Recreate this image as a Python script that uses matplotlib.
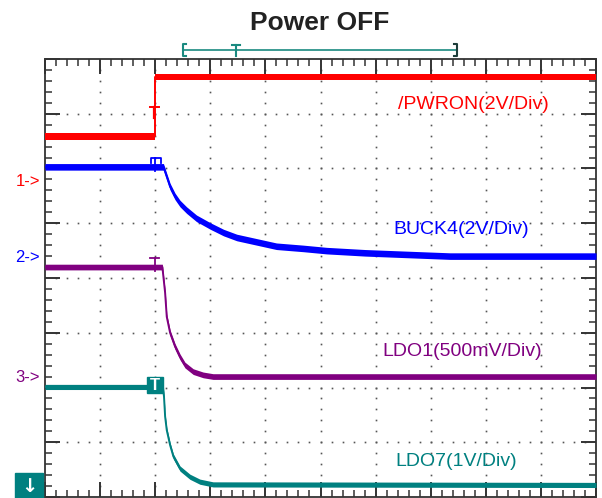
import numpy as np
import matplotlib
matplotlib.use("Agg")
from matplotlib import pyplot as plt
from matplotlib.patches import Rectangle

plt.rcParams["font.family"] = ["Liberation Sans", "DejaVu Sans"]

# scope traces, in screen divisions (10 x 8 grid)
t_pwron = [0, 2.0, 2.0, 10]
v_pwron = [6.59, 6.59, 7.67, 7.67]

t_buck4 = [0, 2.0, 2.15, 2.21, 2.27, 2.36, 2.45, 2.57, 2.75, 3.0, 3.24,
           3.48, 3.84, 4.2, 4.69, 5.11, 5.81, 7.35, 10]
v_buck4 = [6.03, 6.03, 6.03, 5.85, 5.67, 5.49, 5.36, 5.24, 5.09, 4.95, 4.83,
           4.74, 4.66, 4.58, 4.54, 4.50, 4.46, 4.40, 4.40]

t_ldo1 = [0, 2.0, 2.13, 2.18, 2.21, 2.27, 2.36, 2.45, 2.54, 2.69, 2.87,
          3.05, 10]
v_ldo1 = [4.20, 4.20, 4.20, 3.73, 3.29, 3.00, 2.75, 2.56, 2.41, 2.29, 2.23,
          2.20, 2.20]

t_ldo7 = [0, 2.0, 2.14, 2.16, 2.18, 2.21, 2.27, 2.33, 2.45, 2.63, 2.81,
          3.05, 10]
v_ldo7 = [2.01, 2.01, 2.01, 1.83, 1.47, 1.22, 0.95, 0.74, 0.52, 0.37, 0.28,
          0.23, 0.22]

names = ["/PWRON(2V/Div)", "BUCK4(2V/Div)", "LDO1(500mV/Div)", "LDO7(1V/Div)"]
colors = ["#ff0000", "#0000ff", "#800080", "#008080"]
ground = [5.77, 4.38, 2.19]   # channel 1-3 reference levels

fig = plt.figure(figsize=(6.02, 4.98), dpi=100)
ax = fig.add_axes([45 / 602, 1 / 498, 551 / 602, 438 / 498])
ax.set_xlim(0, 10)
ax.set_ylim(0, 8)

# dotted graticule
gx, gy = [], []
for k in range(1, 10):
    ys = np.arange(0.2, 8, 0.2)
    gx += [k] * len(ys)
    gy += list(ys)
for k in range(1, 8):
    xs = np.arange(0.2, 10, 0.2)
    gx += list(xs)
    gy += [k] * len(xs)
ax.plot(gx, gy, "s", ms=1.2, mew=0, color="#555555", zorder=1)

# traces: a vertical noise band around each waveform
traces = [(t_pwron, v_pwron, 0.062), (t_buck4, v_buck4, 0.06),
          (t_ldo1, v_ldo1, 0.052), (t_ldo7, v_ldo7, 0.047)]
for (t, v, h), c in zip(traces, colors):
    t = np.array(t)
    v = np.array(v)
    ax.fill_between(t, v - h, v + h, color=c, lw=0, zorder=3)
    ax.plot(t, v, color=c, lw=1.4, zorder=3)

# trace labels
ax.text(6.41, 7.16, names[0], color=colors[0], fontsize=14, va="center")
ax.text(6.32, 4.88, names[1], color=colors[1], fontsize=14, va="center")
ax.text(6.12, 2.65, names[2], color=colors[2], fontsize=14, va="center")
ax.text(6.35, 0.645, names[3], color=colors[3], fontsize=14, va="center")

# trigger markers
ax.plot([1.906, 2.069], [7.123, 7.123], color=colors[0], lw=1.4, zorder=4)
ax.plot([1.978, 1.978], [7.123, 6.92], color=colors[0], lw=1.6, zorder=4)
ax.plot([1.92, 1.92, 2.10, 2.10], [6.10, 6.19, 6.19, 6.10],
        color=colors[1], lw=1.3, zorder=4)
ax.plot([1.99, 1.99], [6.19, 5.96], color=colors[1], lw=1.3, zorder=4)
ax.plot([1.906, 2.069], [4.36, 4.36], color=colors[2], lw=1.3, zorder=4)
ax.plot([1.99, 1.99], [4.36, 4.12], color=colors[2], lw=1.3, zorder=4)
ax.add_patch(Rectangle((1.851, 1.90), 0.291, 0.292, color=colors[3], zorder=5))
ax.text(1.996, 2.04, "T", color="white", fontsize=12, fontweight="bold",
        ha="center", va="center", zorder=6)

# time window bracket above the screen
bc = "#1a8a80"
ax.plot([2.505, 7.477], [8.164, 8.164], color=bc, lw=1.2, clip_on=False)
ax.plot([2.56, 2.505, 2.505, 2.56], [8.27, 8.27, 8.06, 8.06], color=bc,
        lw=1.5, clip_on=False)
ax.plot([7.42, 7.477, 7.477, 7.42], [8.27, 8.27, 8.06, 8.06], color="#1d3d3a",
        lw=1.5, clip_on=False)
ax.plot([3.39, 3.54], [8.26, 8.26], color=bc, lw=1.5, clip_on=False)
ax.plot([3.466, 3.466], [8.26, 8.06], color=bc, lw=1.5, clip_on=False)

# frame with inward ticks on every side
for s in ax.spines.values():
    s.set_color("#333333")
    s.set_linewidth(1.3)
ax.set_xticks(np.arange(0, 11, 1))
ax.set_xticks(np.arange(0, 10.01, 0.2), minor=True)
ax.set_yticks(np.arange(0, 9, 1))
ax.set_yticks(np.arange(0, 8.01, 0.2), minor=True)
ax.tick_params(which="both", direction="in", top=True, right=True,
               labelbottom=False, labelleft=False, color="#333333")
ax.tick_params(which="major", length=11, width=1.4)
ax.tick_params(which="minor", length=5, width=1.1)

# channel ground references
for g, c, lab in zip(ground, colors, ["1->", "2->", "3->"]):
    ax.text(-0.09, g, lab, color=c, fontsize=12, ha="right", va="center",
            clip_on=False)
fig.patches.append(Rectangle((15 / 602, 0), 28 / 602, 25 / 498,
                             transform=fig.transFigure, color=colors[3]))
fig.text(29 / 602, 12 / 498, "\u2193", color="white", fontsize=14,
         fontweight="bold", ha="center", va="center", family="DejaVu Sans")

fig.text(320 / 602, 1 - 30 / 498, "Power OFF", fontsize=19, fontweight="bold",
         color="#222222", ha="center", va="baseline")

fig.savefig("out.png", dpi=100)
